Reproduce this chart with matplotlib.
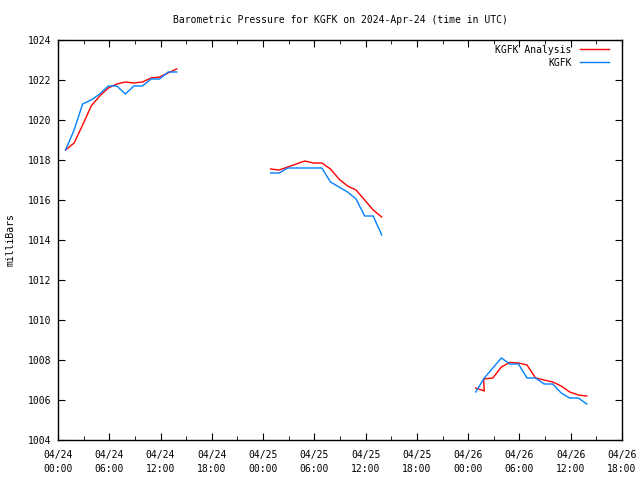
import numpy as np
import pandas as pd
import matplotlib
matplotlib.use("Agg")
import matplotlib.pyplot as plt
import matplotlib.dates as mdates

# Observation / analysis times (hourly at :53 within three windows)
seg_starts = ["2024-04-24 00:53", "2024-04-25 00:53", "2024-04-26 00:53"]

kgfk_obs = [
    [1018.5, 1019.5, 1020.8, 1021.0, 1021.3, 1021.7, 1021.7, 1021.3, 1021.7, 1021.7, 1022.05, 1022.05, 1022.4, 1022.4],
    [1017.35, 1017.35, 1017.6, 1017.6, 1017.6, 1017.6, 1017.6, 1016.9, 1016.65, 1016.4, 1016.05, 1015.2, 1015.2, 1014.25],
    [1006.4, 1007.1, 1007.6, 1008.1, 1007.8, 1007.8, 1007.1, 1007.1, 1006.8, 1006.8, 1006.35, 1006.1, 1006.1, 1005.8],
]
kgfk_analysis = [
    [1018.5, 1018.85, 1019.75, 1020.7, 1021.2, 1021.6, 1021.8, 1021.9, 1021.85, 1021.9, 1022.1, 1022.15, 1022.35, 1022.55],
    [1017.55, 1017.5, 1017.65, 1017.8, 1017.95, 1017.85, 1017.85, 1017.55, 1017.05, 1016.7, 1016.5, 1016.0, 1015.5, 1015.15],
    [1006.6, 1006.45, 1007.1, 1007.65, 1007.88, 1007.85, 1007.75, 1007.1, 1007.0, 1006.9, 1006.7, 1006.4, 1006.25, 1006.2],
]
# extra analysis point (jump right after first hour of third window)
extra_time = "2024-04-26 01:48"
extra_value = 1007.05

yticks = [1004, 1006, 1008, 1010, 1012, 1014, 1016, 1018, 1020, 1022, 1024]

plt.rcParams['font.family'] = ['DejaVu Sans Mono']
fig = plt.figure(figsize=(6.4, 4.8), dpi=100)
ax = fig.add_axes([58/640, 40/480, 564/640, 400/480])

def build(series, extra=None):
    ts, vs = [], []
    for start, vals in zip(seg_starts, series):
        t = pd.date_range(start, periods=len(vals), freq="h")
        tl, vl = list(t), list(vals)
        if extra is not None and start == seg_starts[2]:
            tl.insert(2, pd.Timestamp(extra[0])); vl.insert(2, extra[1])
        ts += tl + [tl[-1] + pd.Timedelta(minutes=1)]
        vs += vl + [np.nan]
    return ts, vs

ta, va = build(kgfk_analysis, (extra_time, extra_value))
to, vo = build(kgfk_obs)
ax.plot(ta, va, color='#ff0000', lw=1.0, label='KGFK Analysis')
ax.plot(to, vo, color='#0080ff', lw=1.0, label='KGFK')

ax.set_xlim(pd.Timestamp("2024-04-24 00:00"), pd.Timestamp("2024-04-26 18:00"))
ax.set_ylim(1004, 1024)
ax.set_yticks(yticks)
ax.xaxis.set_major_locator(mdates.HourLocator(byhour=range(0, 24, 6)))
ax.xaxis.set_minor_locator(mdates.HourLocator(byhour=range(0, 24, 3)))
ax.xaxis.set_major_formatter(mdates.DateFormatter("%m/%d\n%H:%M"))
ax.tick_params(axis='both', which='both', direction='in', top=True, right=True, labelsize=7)
ax.tick_params(axis='both', which='major', length=5)
ax.tick_params(axis='x', which='minor', length=3)
ax.tick_params(axis='x', pad=7)
ax.tick_params(axis='y', pad=5)
for lbl in ax.get_xticklabels():
    lbl.set_linespacing(1.5)
for s in ax.spines.values():
    s.set_linewidth(1.0)

ax.set_ylabel("milliBars", fontsize=7, labelpad=9)
ax.set_title("Barometric Pressure for KGFK on 2024-Apr-24 (time in UTC)", fontsize=7, pad=12)
leg = ax.legend(loc='upper right', frameon=False, markerfirst=False, fontsize=7,
                handlelength=3.0, handletextpad=0.8, labelspacing=0.3,
                borderaxespad=0.1, bbox_to_anchor=(0.985, 1.0))
fig.savefig("out.png", dpi=100)
